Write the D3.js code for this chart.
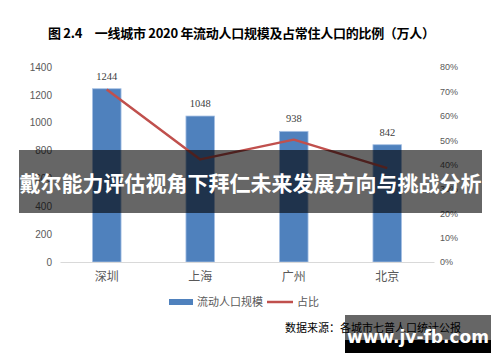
<!DOCTYPE html>
<html><head><meta charset="utf-8">
<script src="https://cdn.jsdelivr.net/npm/d3@7"></script>
<style>body{margin:0;background:#fff}svg{display:block}</style>
</head><body>
<svg id="c" width="500" height="362"></svg>
<script>
const categories = ["深圳", "上海", "广州", "北京"];
const flowPop = [1244, 1048, 938, 842];
const share = [70.8, 42.1, 50.2, 38.5];
const leftTicks = [0, 200, 400, 600, 800, 1000, 1200, 1400];
const rightTicks = [0, 10, 20, 30, 40, 50, 60, 70, 80];
const titleText = "图 2.4　一线城市 2020 年流动人口规模及占常住人口的比例（万人）";
const legendLabels = ["流动人口规模", "占比"];
const sourceText = "数据来源：各城市七普人口统计公报";
const overlayText = "戴尔能力评估视角下拜仁未来发展方向与挑战分析";
const watermarkText = "www.jv-fb.com";

const svg = d3.select("#c");
const cjk = "'Noto Sans CJK SC', sans-serif";
const x = d3.scaleBand().domain(categories).range([60, 434]).paddingInner(0.694).paddingOuter(0.347);
const yL = d3.scaleLinear().domain([0, 1400]).range([262, 67]);
const yR = d3.scaleLinear().domain([0, 80]).range([262, 67]);

svg.append("text").attr("x", 48).attr("y", 38).attr("font-family", cjk).attr("font-weight", "bold")
  .attr("font-size", 13).attr("fill", "#000").attr("textLength", 387).text(titleText);

// left axis
const gl = svg.append("g").attr("transform", "translate(60,0)")
  .call(d3.axisLeft(yL).tickValues(leftTicks).tickFormat(d3.format("d")).tickSize(0).tickPadding(8));
gl.select(".domain").remove();
gl.selectAll("text").attr("font-family", "'Liberation Sans', sans-serif").attr("font-size", 10).attr("fill", "#595959");

// right axis
const gr = svg.append("g").attr("transform", "translate(434,0)")
  .call(d3.axisRight(yR).tickValues(rightTicks).tickFormat(d => d + "%").tickSize(0).tickPadding(6));
gr.select(".domain").remove();
gr.selectAll("text").attr("font-family", "'Liberation Sans', sans-serif").attr("font-size", 9).attr("fill", "#595959");

// bars
svg.selectAll("rect.bar").data(flowPop).join("rect").attr("class", "bar")
  .attr("x", (d, i) => x(categories[i])).attr("width", x.bandwidth())
  .attr("y", d => yL(d)).attr("height", d => yL(0) - yL(d))
  .attr("fill", "#4f81bd").attr("stroke", "#a7c1e4").attr("stroke-width", 0.8);

svg.selectAll("text.blab").data(flowPop).join("text").attr("class", "blab")
  .attr("x", (d, i) => x(categories[i]) + x.bandwidth() / 2).attr("y", d => yL(d) - 9)
  .attr("text-anchor", "middle").attr("font-family", "'Liberation Serif', serif").attr("font-size", 10.5)
  .attr("fill", "#404040").text(d => d);

// x axis
const gx = svg.append("g").attr("transform", "translate(0,262)")
  .call(d3.axisBottom(x).tickSize(0).tickPadding(10));
gx.select(".domain").attr("stroke", "#d9d9d9").attr("stroke-width", 1);
gx.selectAll("text").attr("font-family", cjk).attr("font-size", 12).attr("fill", "#595959");

// line
const line = d3.line().x((d, i) => x(categories[i]) + x.bandwidth() / 2).y(d => yR(d));
svg.append("path").datum(share).attr("d", line).attr("fill", "none")
  .attr("stroke", "#c0504d").attr("stroke-width", 2.5).attr("stroke-linejoin", "round");

// legend
svg.append("rect").attr("x", 169).attr("y", 299).attr("width", 24).attr("height", 6).attr("fill", "#4f81bd");
svg.append("text").attr("x", 197).attr("y", 306).attr("font-family", cjk).attr("font-size", 11).attr("fill", "#595959").text(legendLabels[0]);
svg.append("line").attr("x1", 267).attr("x2", 293).attr("y1", 302).attr("y2", 302).attr("stroke", "#c0504d").attr("stroke-width", 2.5);
svg.append("text").attr("x", 297).attr("y", 306).attr("font-family", cjk).attr("font-size", 11).attr("fill", "#595959").text(legendLabels[1]);

// source
svg.append("text").attr("x", 285).attr("y", 332).attr("font-family", cjk).attr("font-size", 11).attr("fill", "#000").text(sourceText);

// overlay band
svg.append("rect").attr("x", 19).attr("y", 150).attr("width", 463).attr("height", 63).attr("fill", "rgba(0,0,0,0.6)");
svg.append("text").attr("x", 250.5).attr("y", 191).attr("text-anchor", "middle").attr("font-family", cjk)
  .attr("font-weight", "bold").attr("font-size", 21).attr("fill", "#fff").attr("textLength", 462).text(overlayText);

// watermark
svg.append("rect").attr("x", 345).attr("y", 315).attr("width", 146).attr("height", 25).attr("fill", "rgba(0,0,0,0.6)");
svg.append("rect").attr("x", 345).attr("y", 340).attr("width", 146).attr("height", 13).attr("fill", "#000");
svg.append("text").attr("x", 418).attr("y", 343).attr("text-anchor", "middle").attr("font-family", "'DejaVu Sans', sans-serif")
  .attr("font-weight", "bold").attr("font-size", 17).attr("fill", "#fff").text(watermarkText);
</script>
</body></html>
